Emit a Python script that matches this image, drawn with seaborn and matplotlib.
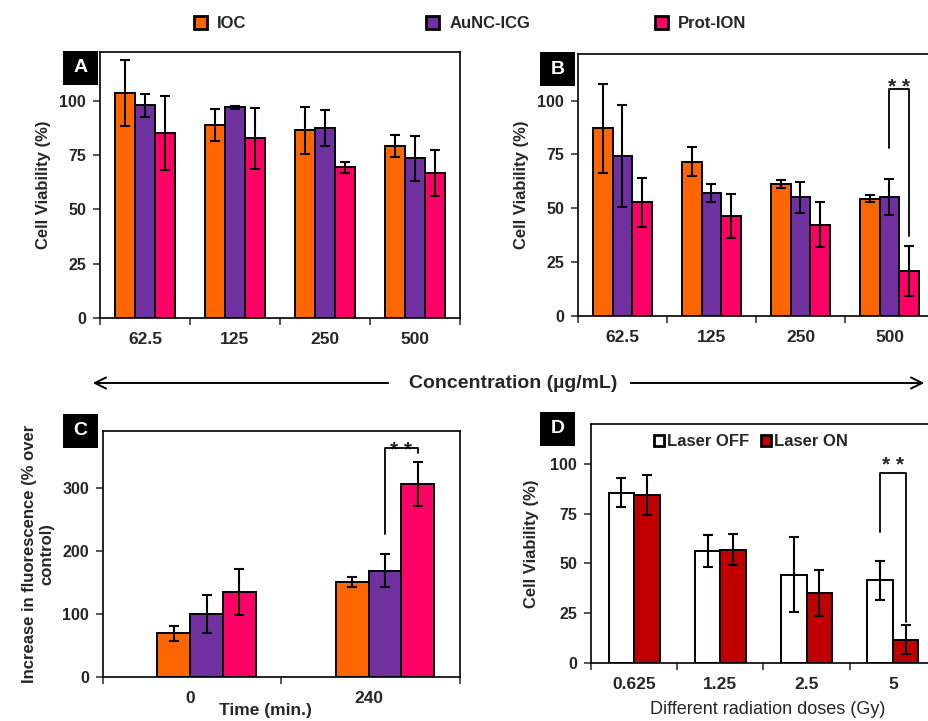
import matplotlib
matplotlib.use("Agg")
import matplotlib.pyplot as plt
import seaborn as sns
import pandas as pd
from matplotlib.patches import Patch, Rectangle, FancyArrowPatch

# ==========================
# DATA
# ==========================
groups = ["IOC", "AuNC-ICG", "Prot-ION"]
group_colors = ["#FF6600", "#7030A0", "#FF0066"]
conc = ["62.5", "125", "250", "500"]

# panel A
a_ioc = [103.4, 88.8, 86.4, 79.0]
a_aunc = [97.9, 96.8, 87.4, 73.4]
a_prot = [85.1, 82.7, 69.2, 66.6]
a_ioc_err = [15.3, 7.5, 10.8, 5.0]
a_aunc_err = [5.3, 0.5, 8.1, 10.5]
a_prot_err = [17.0, 14.0, 2.7, 10.5]

# panel B
b_ioc = [87.1, 71.6, 61.3, 54.5]
b_aunc = [74.2, 57.1, 55.1, 55.1]
b_prot = [52.7, 46.4, 42.4, 20.7]
b_ioc_err = [20.5, 6.8, 1.8, 1.7]
b_aunc_err = [23.7, 4.3, 7.2, 8.4]
b_prot_err = [11.5, 10.0, 10.3, 11.6]

# panel C
times = ["0", "240"]
c_ioc = [69.0, 150.8]
c_aunc = [99.8, 168.3]
c_prot = [134.9, 305.9]
c_ioc_err = [12.0, 8.0]
c_aunc_err = [30.0, 26.0]
c_prot_err = [37.0, 35.0]

# panel D
doses = ["0.625", "1.25", "2.5", "5"]
laser = ["Laser OFF", "Laser ON"]
laser_colors = ["#FFFFFF", "#C00000"]
d_off = [85.6, 56.4, 44.3, 41.6]
d_on = [84.3, 56.9, 35.0, 11.7]
d_off_err = [7.3, 8.0, 18.8, 9.8]
d_on_err = [10.1, 7.8, 11.5, 7.2]

# ==========================
# STYLE
# ==========================
sns.set_style("ticks")
plt.rcParams["font.family"] = ["Liberation Sans", "DejaVu Sans"]
plt.rcParams["font.weight"] = "bold"
plt.rcParams["axes.labelweight"] = "bold"

W, H = 929, 721
fig = plt.figure(figsize=(W / 100, H / 100), dpi=100)


def px_axes(left, top, right, bottom):
    return fig.add_axes([left / W, 1 - bottom / H, (right - left) / W, (bottom - top) / H])


def draw_bars(ax, cats, names, cols, means, errs, width):
    df = pd.DataFrame({
        "x": [c for m in means for c in cats],
        "y": [v for m in means for v in m],
        "g": [n for n, m in zip(names, means) for _ in m],
    })
    sns.barplot(data=df, x="x", y="y", hue="g", order=cats, hue_order=names,
                palette=cols, width=width, errorbar=None, saturation=1,
                edgecolor="black", linewidth=1.4, legend=False, ax=ax)
    bars = list(ax.containers)[:len(names)]
    for cont, err in zip(bars, errs):
        xs = [b.get_x() + b.get_width() / 2 for b in cont]
        hs = [b.get_height() for b in cont]
        ax.errorbar(xs, hs, yerr=err, fmt="none", ecolor="black",
                    elinewidth=1.5, capsize=3.5, capthick=1.5, zorder=5)
    return bars


def style_axes(ax, ylim, yticks, bounds, label_pos, labels):
    ax.set_ylim(*ylim)
    ax.set_yticks(yticks)
    ax.set_xlim(bounds[0], bounds[-1])
    ax.set_xticks(bounds)
    ax.set_xticklabels([])
    ax.set_xticks(label_pos, minor=True)
    ax.set_xticklabels(labels, minor=True)
    ax.tick_params(axis="x", which="major", direction="out", length=5, width=1.1)
    ax.tick_params(axis="x", which="minor", length=0, pad=10, labelsize=12.5)
    ax.tick_params(axis="y", direction="out", length=5, width=1.1, labelsize=11.5, pad=5)
    for s in ax.spines.values():
        s.set_visible(True)
        s.set_linewidth(1.2)
        s.set_color("black")
    ax.set_xlabel("")
    ax.set_ylabel("")


def bracket(ax, bar_l, bar_r, y_l, y_top, y_r, txt_y):
    x1 = bar_l.get_x() + bar_l.get_width() / 2
    x2 = bar_r.get_x() + bar_r.get_width() / 2
    ax.plot([x1, x1, x2, x2], [y_l, y_top, y_top, y_r], color="black", lw=1.3, zorder=6)
    ax.text((x1 + x2) / 2, txt_y, "* *", ha="center", va="baseline",
            fontsize=15, fontweight="bold")


four_bounds = [-0.5, 0.5, 1.5, 2.5, 3.5]

# ==========================
# PANEL A
# ==========================
axA = px_axes(100, 52, 460, 318)
draw_bars(axA, conc, groups, group_colors, [a_ioc, a_aunc, a_prot],
          [a_ioc_err, a_aunc_err, a_prot_err], 0.674)
style_axes(axA, (0, 122.3), [0, 25, 50, 75, 100], four_bounds, range(4), conc)
axA.set_ylabel("Cell Viability (%)", fontsize=12, labelpad=6)

# ==========================
# PANEL B
# ==========================
axB = px_axes(578, 54, 934, 316)
barsB = draw_bars(axB, conc, groups, group_colors, [b_ioc, b_aunc, b_prot],
                  [b_ioc_err, b_aunc_err, b_prot_err], 0.667)
style_axes(axB, (0, 121.6), [0, 25, 50, 75, 100], four_bounds, range(4), conc)
axB.set_ylabel("Cell Viability (%)", fontsize=12, labelpad=6)
bracket(axB, barsB[1][3], barsB[2][3], 77.9, 105.2, 37.0, 103.3)

# ==========================
# PANEL C
# ==========================
axC = px_axes(103, 431, 460, 677)
barsC = draw_bars(axC, times, groups, group_colors, [c_ioc, c_aunc, c_prot],
                  [c_ioc_err, c_aunc_err, c_prot_err], 0.55)
style_axes(axC, (0, 390), [0, 100, 200, 300], [-0.58, 0.42, 1.42], [-0.09, 0.91], times)
axC.set_ylabel("Increase in fluorescence (% over\ncontrol)", fontsize=12, labelpad=6)
axC.set_xlabel("Time (min.)", fontsize=12.5)
axC.xaxis.set_label_coords((265 - 103) / 357, (677 - 710) / 246)
axC.xaxis.label.set_verticalalignment("center")
bracket(axC, barsC[1][1], barsC[2][1], 227, 362.7, 354.8, 351)

# ==========================
# PANEL D
# ==========================
axD = px_axes(591, 424, 936, 663)
barsD = draw_bars(axD, doses, laser, laser_colors, [d_off, d_on],
                  [d_off_err, d_on_err], 0.59)
style_axes(axD, (0, 120), [0, 25, 50, 75, 100], four_bounds, range(4), doses)
axD.set_ylabel("Cell Viability (%)", fontsize=12, labelpad=8)
axD.set_xlabel("Different radiation doses (Gy)", fontsize=13, fontweight="normal")
axD.xaxis.set_label_coords((768 - 591) / 345, (663 - 710) / 239)
axD.xaxis.label.set_verticalalignment("center")
bracket(axD, barsD[0][3], barsD[1][3], 66, 95.3, 20.6, 96.5)
axD.legend(handles=[Patch(facecolor=c, edgecolor="black", linewidth=2) for c in laser_colors],
           labels=laser, loc="center left", bbox_to_anchor=((654 - 591) / 345, 0.925),
           ncol=2, frameon=False, handlelength=0.6, handleheight=0.6,
           handletextpad=0.2, columnspacing=0.7, borderpad=0, borderaxespad=0,
           prop={"size": 12, "weight": "bold"})

# ==========================
# SHARED LEGEND, ARROWS, PANEL TAGS
# ==========================
for name, col, xleft in zip(groups, group_colors, [194, 426, 655]):
    fig.legend(handles=[Patch(facecolor=col, edgecolor="black", linewidth=2)], labels=[name],
               loc="center left", bbox_to_anchor=(xleft / W, 1 - 23.5 / H),
               frameon=False, handlelength=0.8, handleheight=0.8, handletextpad=0.6,
               borderpad=0, borderaxespad=0, prop={"size": 12, "weight": "bold"})

fig.text(513 / W, 1 - 383 / H, "Concentration (µg/mL)", ha="center", va="center",
         fontsize=14, fontweight="bold")
for tail, tip in [(391, 90), (628, 927)]:
    fig.add_artist(FancyArrowPatch((tail / W, 1 - 383 / H), (tip / W, 1 - 383 / H),
                                   transform=fig.transFigure, arrowstyle="->",
                                   mutation_scale=20, lw=1.4, color="black"))

for letter, (x0, y0) in zip("ABCD", [(63, 51), (540, 52), (63, 414), (540, 412)]):
    fig.add_artist(Rectangle((x0 / W, 1 - (y0 + 34) / H), 35 / W, 34 / H,
                             transform=fig.transFigure, facecolor="black", edgecolor="none"))
    fig.text((x0 + 17.5) / W, 1 - (y0 + 17) / H, letter, color="white",
             fontsize=14, fontweight="bold", ha="center", va="center")

fig.savefig("out.png", dpi=100)
print("saved out.png")
